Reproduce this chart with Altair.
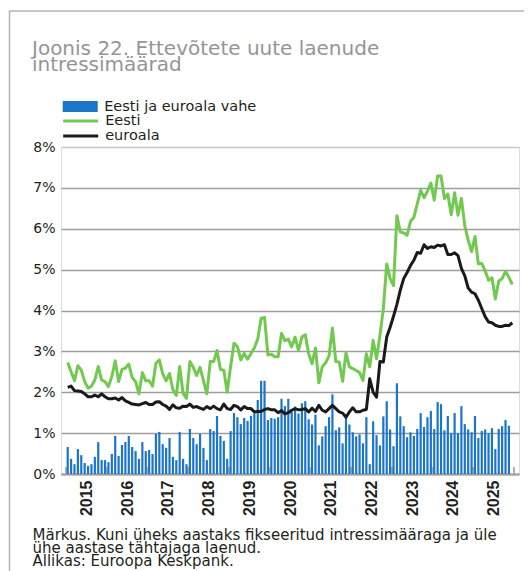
import altair as alt
import pandas as pd

# ---- data ----
# monthly, starting January 2015
vahe = [0.66, 0.37, 0.24, 0.61, 0.46, 0.27, 0.20, 0.24, 0.42, 0.78, 0.34, 0.34,
        0.29, 0.49, 0.93, 0.44, 0.71, 0.78, 0.93, 0.66, 0.56, 0.37, 0.78, 0.56,
        0.59, 0.49, 0.98, 1.03, 0.73, 0.64, 0.88, 0.42, 0.34, 1.03, 0.37, 0.24,
        1.10, 0.88, 0.73, 0.98, 0.64, 0.34, 1.10, 1.05, 1.42, 0.93, 0.81, 0.37,
        1.05, 1.49, 1.39, 1.22, 1.37, 1.30, 1.42, 1.49, 1.81, 2.28, 2.28, 1.32,
        1.37, 1.35, 1.39, 1.84, 1.66, 1.84, 1.52, 1.65, 1.48, 1.73, 1.78, 1.34,
        1.21, 1.45, 0.70, 0.92, 1.17, 1.39, 1.95, 1.07, 1.14, 0.75, 1.46, 1.21,
        1.02, 0.92, 0.97, 0.75, 1.39, 0.24, 1.29, 0.95, 0.70, 1.41, 1.78, 1.09,
        0.68, 2.22, 1.41, 1.17, 0.90, 1.02, 0.93, 1.10, 1.49, 1.15, 1.39, 1.54,
        1.10, 1.76, 1.71, 1.07, 1.42, 1.00, 1.49, 1.00, 1.66, 1.22, 1.09, 1.02,
        1.42, 0.88, 1.05, 1.09, 1.00, 1.12, 0.61, 1.10, 1.17, 1.32, 1.18]

eesti = [2.73, 2.50, 2.28, 2.65, 2.54, 2.26, 2.10, 2.15, 2.30, 2.63, 2.30, 2.26,
         2.14, 2.38, 2.77, 2.26, 2.56, 2.59, 2.69, 2.36, 2.26, 1.96, 2.48, 2.28,
         2.28, 2.15, 2.71, 2.79, 2.45, 2.28, 2.46, 2.06, 1.92, 2.63, 1.97, 1.85,
         2.75, 2.61, 2.41, 2.61, 2.28, 1.96, 2.75, 2.75, 3.02, 2.56, 2.54, 2.00,
         2.63, 3.20, 3.12, 2.79, 2.95, 2.81, 2.95, 3.09, 3.30, 3.81, 3.83, 2.91,
         2.93, 2.87, 2.87, 3.44, 3.26, 3.30, 3.11, 3.35, 3.02, 3.35, 3.41, 2.94,
         2.70, 3.08, 2.23, 2.62, 2.72, 2.89, 3.57, 2.75, 2.74, 2.27, 2.97, 2.62,
         2.58, 2.53, 2.48, 2.29, 2.94, 2.62, 3.27, 2.82, 3.39, 4.04, 5.14, 4.78,
         4.61, 6.32, 5.92, 5.90, 5.84, 6.18, 6.28, 6.61, 6.94, 6.76, 6.92, 7.12,
         6.70, 7.29, 7.29, 6.74, 6.85, 6.34, 6.88, 6.33, 6.74, 6.07, 5.72, 5.44,
         5.81, 5.14, 5.15, 4.97, 4.74, 4.80, 4.28, 4.72, 4.78, 4.96, 4.81, 4.64]

euroala = [2.12, 2.15, 2.04, 2.03, 2.02, 1.96, 1.89, 1.89, 1.93, 1.89, 1.96, 1.89,
           1.84, 1.84, 1.86, 1.81, 1.87, 1.79, 1.75, 1.71, 1.70, 1.69, 1.72, 1.75,
           1.70, 1.70, 1.76, 1.77, 1.70, 1.66, 1.58, 1.69, 1.62, 1.61, 1.66, 1.65,
           1.71, 1.63, 1.65, 1.61, 1.58, 1.65, 1.60, 1.66, 1.60, 1.57, 1.71, 1.60,
           1.58, 1.68, 1.65, 1.57, 1.65, 1.60, 1.60, 1.52, 1.53, 1.53, 1.58, 1.60,
           1.57, 1.57, 1.50, 1.55, 1.47, 1.50, 1.56, 1.60, 1.57, 1.58, 1.60, 1.52,
           1.61, 1.53, 1.68, 1.56, 1.52, 1.60, 1.68, 1.60, 1.52, 1.49, 1.39, 1.52,
           1.62, 1.52, 1.52, 1.56, 1.58, 2.33, 2.00, 1.88, 2.75, 2.74, 3.35, 3.59,
           3.86, 4.15, 4.50, 4.78, 4.93, 5.10, 5.23, 5.42, 5.40, 5.61, 5.52, 5.56,
           5.54, 5.60, 5.58, 5.61, 5.37, 5.37, 5.41, 5.34, 5.03, 4.85, 4.55, 4.45,
           4.41, 4.25, 4.05, 3.85, 3.72, 3.70, 3.64, 3.61, 3.61, 3.64, 3.63, 3.70]

label_years = list(range(2015, 2026))
year_bounds = list(range(2015, 2027))
series_names = ["Eesti ja euroala vahe", "Eesti", "euroala"]
y_ticks = list(range(0, 9))

title_lines = ["Joonis 22. Ettevõtete uute laenude", "intressimäärad"]
note_lines = ["Märkus. Kuni üheks aastaks fikseeritud intressimääraga ja üle",
              "ühe aastase tähtajaga laenud.",
              "Allikas: Euroopa Keskpank."]

# ---- tables ----
df_bar = pd.DataFrame({"t": [2015 + (i + 0.5) / 12 for i in range(len(vahe))],
                       "v": vahe, "s": series_names[0]})
df_line = pd.concat([
    pd.DataFrame({"t": [2015 + (i + 0.5) / 12 for i in range(len(eesti))],
                  "v": eesti, "s": series_names[1]}),
    pd.DataFrame({"t": [2015 + (i + 0.5) / 12 for i in range(len(euroala))],
                  "v": euroala, "s": series_names[2]}),
])
df_ticks = pd.DataFrame({"t": year_bounds})
df_one = pd.DataFrame({"a": [0]})

W, H = 458, 327
FONT = "DejaVu Sans"
TXT = "#231f20"

xscale = alt.Scale(domain=[2015, 2026], nice=False, zero=False)
yscale = alt.Scale(domain=[0, 8], nice=False)

xaxis = alt.Axis(values=[y + 0.5 for y in label_years],
                 labelExpr="toString(floor(datum.value))",
                 labelAngle=270, labelFont="Liberation Sans", labelFontWeight="bold",
                 labelFontSize=16, labelColor=TXT, labelPadding=6, labelOverlap=False,
                 labelFlush=False, ticks=False, grid=False,
                 domain=True, domainColor="#9d9d9d", domainWidth=2,
                 title=note_lines, titleFont=FONT, titleFontSize=15,
                 titleFontWeight="normal", titleColor=TXT, titleAnchor="start",
                 titleAlign="left", titleBaseline="alphabetic",
                 titleX=-29, titleY=65.5, titleLineHeight=12.8)
yaxis = alt.Axis(values=y_ticks, labelExpr="datum.value + '%'",
                 labelFont=FONT, labelFontSize=14, labelColor=TXT, labelPadding=6,
                 ticks=False, domain=False, title=None,
                 gridColor={"condition": {"test": "datum.value === 8", "value": "#c3c7c7"},
                            "value": "#9d9d9d"},
                 gridWidth=1.5)

X = alt.X("t:Q", scale=xscale, axis=xaxis)
Y = alt.Y("v:Q", scale=yscale, axis=yaxis)

rect_path = "M-2.5,-0.79H2.5V0.79H-2.5Z"
line_path = "M-2.5,0H2.5"

border = alt.Chart(df_one).mark_rule(color="#b4b4b4", strokeWidth=1.5).encode(
    x=alt.value(-51.5), y=alt.value(-136), y2=alt.value(430))
border_top = alt.Chart(df_one).mark_rule(color="#b4b4b4", strokeWidth=1.5).encode(
    x=alt.value(-51.5), x2=alt.value(475), y=alt.value(-136))

ticks = alt.Chart(df_ticks).mark_rule(color="#b0b0b0", strokeWidth=2).encode(
    x=X, y=alt.value(H - 7), y2=alt.value(H))

bars = alt.Chart(df_bar).mark_bar(size=2.2).encode(
    x=X, y=Y,
    fill=alt.Fill("s:N", scale=alt.Scale(domain=[series_names[0]], range=["#1b75c9"]),
                  legend=alt.Legend(title=None, orient="none", legendX=11.2, legendY=-48.5,
                                    symbolType=rect_path, symbolSize=196,
                                    labelOffset=16, padding=0, rowPadding=0,
                                    labelFont=FONT, labelFontSize=14.5, labelColor=TXT,
                                    labelLimit=400)))

lines = alt.Chart(df_line).mark_line(strokeWidth=3, strokeJoin="round").encode(
    x=X, y=Y, detail="s:N", order="t:Q",
    stroke=alt.Stroke("s:N", scale=alt.Scale(domain=series_names[1:],
                                             range=["#72c94f", "#1a1a1a"]),
                      legend=alt.Legend(title=None, orient="none", legendX=11.2, legendY=-34.5,
                                        symbolType=line_path, symbolSize=196,
                                        symbolStrokeWidth=3,
                                        labelOffset=16, padding=0, rowPadding=0,
                                        labelFont=FONT, labelFontSize=14.5, labelColor=TXT,
                                        labelLimit=400)))

chart = alt.layer(border, border_top, ticks, bars, lines).properties(
    width=W, height=H,
    autosize=alt.AutoSizeParams(type="none"),
    padding={"left": 53, "top": 139, "right": 5, "bottom": 97},
    title=alt.TitleParams(text=title_lines, anchor="start", frame="group", dx=-29,
                          dy=75, font=FONT, fontSize=20, fontWeight="normal",
                          color="#959595", lineHeight=15.8, offset=10),
).configure_view(stroke=None).configure(background="white")

chart.save("out.html", embed_options={"renderer": "svg", "actions": False})
